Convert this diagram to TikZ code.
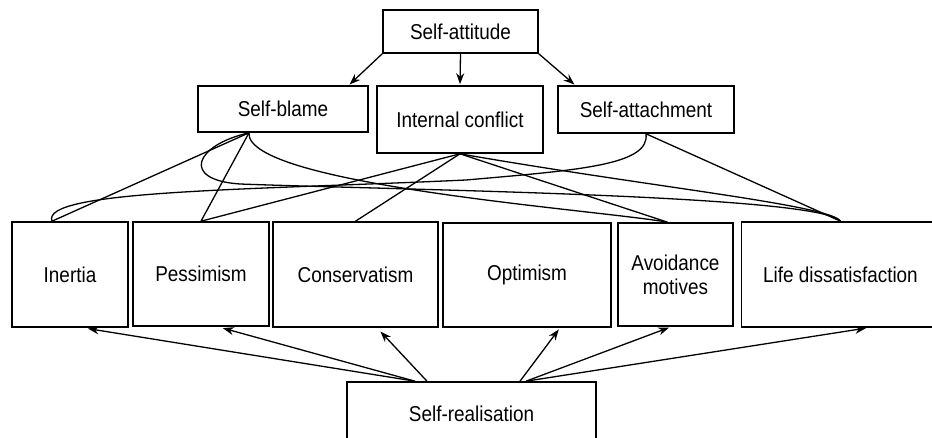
\documentclass[tikz,border=0pt]{standalone}
\usepackage{fontspec}
\setmainfont{Liberation Sans}[FakeStretch=0.88]
\usetikzlibrary{arrows.meta}

\begin{document}
\begin{tikzpicture}[x=1pt,y=-1pt,
		box/.style={draw,line width=1.6pt,inner sep=0pt,align=center,font=\fontsize{21.5}{24}\selectfont},
		link/.style={line width=1.3pt},
		arr/.style={line width=1.3pt,-{Stealth[length=11pt,width=8pt]}}]
	\useasboundingbox (0,0) rectangle (932,437);
	% top and middle row
	\node[box,minimum width=155pt,minimum height=43pt] (att) at (460.5,31.5) {Self-attitude};
	\node[box,minimum width=170pt,minimum height=46pt] (blame) at (283,109) {Self-blame};
	\node[box,minimum width=166pt,minimum height=67pt] (conflict) at (460,119.5) {Internal conflict};
	\node[box,minimum width=176pt,minimum height=47pt] (attach) at (646,109.5) {Self-attachment};
	% bottom row
	\node[box,minimum width=116pt,minimum height=105pt] (inertia) at (70,274.5) {Inertia};
	\node[box,minimum width=136pt,minimum height=104pt] (pess) at (201,274) {Pessimism};
	\node[box,minimum width=165pt,minimum height=105pt] (cons) at (355.5,274.5) {Conservatism};
	\node[box,minimum width=168pt,minimum height=104pt] (opt) at (527,275) {Optimism};
	\node[box,minimum width=115pt,minimum height=103pt] (avoid) at (675.5,274.5) {Avoidance\\motives};
	\node[box,minimum width=198pt,minimum height=105pt] (life) at (840.5,274.5) {Life dissatisfaction};
	\node[box,minimum width=249pt,minimum height=63pt] (real) at (471.5,413.5) {Self-realisation};

	\draw[arr,shorten >=1pt] (att.south west) -- ([xshift=-20pt]blame.north east);
	\draw[arr,shorten >=1pt] (att.south) -- (conflict.north);
	\draw[arr,shorten >=1pt] (att.south east) -- ([xshift=18pt]attach.north west);

	\draw[link] ([xshift=-34pt]blame.south) -- ([xshift=-18pt]inertia.north);
	\draw[link] ([xshift=-34pt]blame.south) -- (pess.north);
	\draw[link] ([xshift=-34pt]blame.south) .. controls (245,185) and (600,210) .. ([xshift=-8pt]avoid.north);
	\draw[link] ([xshift=-34pt]blame.south) .. controls (195,145) and (180,180) .. (240,184)
		.. controls (400,190) and (820,195) .. (life.north);
	\draw[link] (conflict.south) -- (pess.north);
	\draw[link] (conflict.south) -- (cons.north);
	\draw[link] (conflict.south) -- ([xshift=-8pt]avoid.north);
	\draw[link] (conflict.south) .. controls (650,187) and (830,205) .. (life.north);
	\draw[link] (attach.south) .. controls (650,165) and (580,170) .. (466,180)
		.. controls (250,190) and (40,190) .. ([xshift=-18pt]inertia.north);
	\draw[link] (attach.south) -- (life.north);

	\draw[arr,shorten >=5pt] ([xshift=-56.5pt]real.north) -- ([xshift=13pt]inertia.south);
	\draw[arr,shorten >=5pt] ([xshift=-56.5pt]real.north) -- ([xshift=17pt]pess.south);
	\draw[arr,shorten >=5pt] ([xshift=-44.5pt]real.north) -- ([xshift=21.5pt]cons.south);
	\draw[arr,shorten >=2pt] ([xshift=48.5pt]real.north) -- ([xshift=33pt]opt.south);
	\draw[arr,shorten >=2pt] ([xshift=54.5pt]real.north) -- ([xshift=-4.5pt]avoid.south);
	\draw[arr,shorten >=2pt] ([xshift=54.5pt]real.north) -- ([xshift=27.5pt]life.south);
\end{tikzpicture}
\end{document}
